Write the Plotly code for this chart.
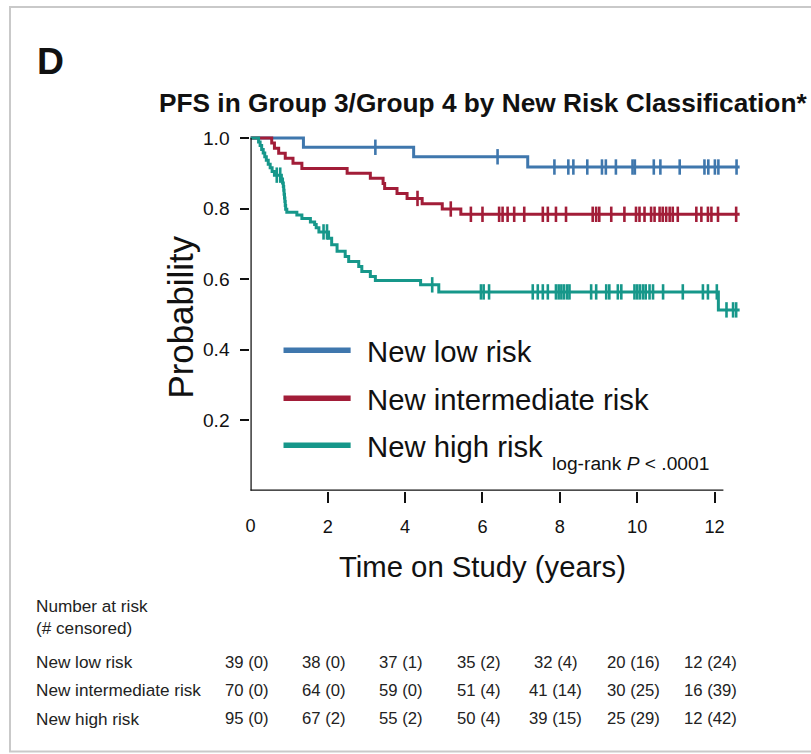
import plotly.graph_objects as go

W, H = 811, 754

# ---------------- data ----------------
time_ticks = [0, 2, 4, 6, 8, 10, 12]
prob_ticks = [0.2, 0.4, 0.6, 0.8, 1.0]
prob_ticktext = ["0.2", "0.4", "0.6", "0.8", "1.0"]

groups = ["New low risk", "New intermediate risk", "New high risk"]

low_t = [0, 1.37, 4.22, 7.17, 12.65]
low_s = [1.0, 0.974, 0.947, 0.918, 0.918]
low_cens = [3.23, 6.39, 7.86, 8.22, 8.35, 8.71, 9.09, 9.19, 9.45, 9.88, 9.94,
            10.43, 10.6, 11.1, 11.74, 11.84, 12.01, 12.1, 12.57]

int_t = [0, 0.55, 0.62, 0.73, 0.9, 1.1, 1.33, 2.5, 3.1, 3.43, 3.47, 3.79, 4.05,
         4.44, 4.96, 5.44, 12.65]
int_s = [1.0, 0.986, 0.971, 0.957, 0.943, 0.929, 0.914, 0.900, 0.886, 0.871,
         0.857, 0.843, 0.829, 0.814, 0.799, 0.784, 0.784]
int_cens = [4.32, 5.18, 5.7, 6.0, 6.43, 6.52, 6.65, 6.82, 7.08, 7.56, 7.69, 7.9,
            8.16, 8.85, 8.94, 9.02, 9.33, 9.67, 9.97, 10.06, 10.19, 10.36, 10.45,
            10.58, 10.66, 10.75, 10.84, 10.92, 11.05, 11.53, 11.66, 11.83, 11.92,
            12.09, 12.56]

high_t = [0, 0.21, 0.25, 0.29, 0.33, 0.37, 0.41, 0.46, 0.51, 0.56, 0.62, 0.80,
          0.83, 0.85, 0.86, 0.87, 0.88, 0.89, 0.90, 0.91, 0.94, 1.2, 1.33, 1.55,
          1.66, 1.70, 1.77, 2.02, 2.1, 2.24, 2.45, 2.54, 2.8, 2.88, 3.1, 3.23,
          4.4, 4.87, 12.1, 12.65]
high_s = [1.0, 0.989, 0.979, 0.968, 0.958, 0.947, 0.937, 0.926, 0.916, 0.905,
          0.895, 0.884, 0.873, 0.863, 0.852, 0.841, 0.830, 0.820, 0.809, 0.798,
          0.790, 0.782, 0.772, 0.762, 0.755, 0.746, 0.734, 0.716, 0.698, 0.679,
          0.664, 0.650, 0.636, 0.622, 0.608, 0.596, 0.584, 0.564, 0.513, 0.513]
high_cens = [0.68, 0.77, 1.89, 1.98, 4.7, 5.96, 6.03, 6.17, 7.3, 7.43, 7.56, 7.69,
             7.9, 7.97, 8.04, 8.11, 8.19, 8.25, 8.81, 8.94, 9.2, 9.28, 9.5, 9.59,
             9.93, 10.0, 10.07, 10.15, 10.22, 10.32, 10.41, 10.67, 11.18, 11.7,
             11.83, 12.06, 12.31, 12.48, 12.56]

at_risk = {
    "New low risk": [39, 38, 37, 35, 32, 20, 12],
    "New intermediate risk": [70, 64, 59, 51, 41, 30, 16],
    "New high risk": [95, 67, 55, 50, 39, 25, 12],
}
censored = {
    "New low risk": [0, 0, 1, 2, 4, 16, 24],
    "New intermediate risk": [0, 0, 0, 4, 14, 25, 39],
    "New high risk": [0, 2, 2, 4, 15, 29, 42],
}

colors = ["#3f77ad", "#a21d38", "#16978a"]

# ---------------- helpers ----------------
# compensation for the small offset/scale seen in the rendered snapshot
SX, OX = 0.992, 5.0
SY, OY = 0.990, 7.0

def X(x):
    return (x - OX) / SX

def Y(y):
    return (y - OY) / SY

def px(x):
    return X(x) / W

def py(y):
    return 1 - Y(y) / H

def fs(s):
    return s / SY

def step_value(ts, ss, t):
    v = ss[0]
    for ti, si in zip(ts, ss):
        if ti <= t:
            v = si
    return v

SANS = "Liberation Sans, Arial, Helvetica, sans-serif"

X0_PX = 250.0          # reference pixel of t = 0
PX_PER_YEAR = 38.6
Y0_PX = 490.5          # reference pixel of p = 0
PX_PER_UNIT = 352.5
XMAX = 12.75
YMAX = 1.01
TICKLEN_X = 11
STANDOFF_X = 8

def xpx(t):
    return px(X0_PX + t * PX_PER_YEAR)

fig = go.Figure()

series = [(low_t, low_s, low_cens), (int_t, int_s, int_cens), (high_t, high_s, high_cens)]
for name, (ts, ss, cs), col in zip(groups, series, colors):
    fig.add_trace(go.Scatter(
        x=ts, y=ss, mode="lines", line=dict(color=col, width=3, shape="hv"),
        name=name, showlegend=False, hoverinfo="skip", cliponaxis=False))
    fig.add_trace(go.Scatter(
        x=cs, y=[step_value(ts, ss, c) for c in cs], mode="markers",
        marker=dict(symbol="line-ns", size=11, color=col,
                    line=dict(color=col, width=2.6)),
        showlegend=False, hoverinfo="skip", cliponaxis=False))

xfont = dict(family=SANS, size=fs(18), color="#111")
fig.update_layout(
    width=W, height=H,
    margin=dict(l=0, r=0, t=0, b=0),
    paper_bgcolor="white", plot_bgcolor="white",
    showlegend=False,
    xaxis=dict(
        domain=[xpx(0), xpx(XMAX)],
        range=[0, XMAX], showgrid=False, zeroline=False, showline=False,
        tickvals=time_ticks[1:], ticks="outside", ticklen=TICKLEN_X, tickwidth=2,
        tickcolor="#111", ticklabelstandoff=STANDOFF_X, tickfont=xfont,
    ),
    # label for t = 0 without a tick mark (the reference has none there)
    xaxis2=dict(
        domain=[xpx(0), xpx(XMAX)], overlaying="x", anchor="y", side="bottom",
        range=[0, XMAX], showgrid=False, zeroline=False, showline=False,
        tickvals=time_ticks[:1], ticks="",
        ticklabelstandoff=STANDOFF_X + TICKLEN_X + 3, tickfont=xfont,
    ),
    yaxis=dict(
        domain=[py(Y0_PX), py(Y0_PX - YMAX * PX_PER_UNIT)],
        range=[0, YMAX], showgrid=False, zeroline=False, showline=False,
        tickvals=prob_ticks, ticktext=prob_ticktext, ticks="outside",
        ticklen=9, tickwidth=2, tickcolor="#111", ticklabelstandoff=7,
        tickfont=dict(family=SANS, size=fs(19), color="#111"),
    ),
)
# invisible trace so that xaxis2 is drawn
fig.add_trace(go.Scatter(x=[0], y=[0], xaxis="x2", mode="markers",
                         marker=dict(opacity=0), showlegend=False, hoverinfo="skip"))

shapes = []
# axis lines
shapes.append(dict(type="line", xref="x", yref="y", x0=0, x1=0, y0=0, y1=1.0,
                   line=dict(color="#111", width=2.5)))
shapes.append(dict(type="line", xref="x", yref="y", x0=-0.03, x1=12.23, y0=0, y1=0,
                   line=dict(color="#111", width=2.5)))
# card border
shapes.append(dict(type="rect", xref="paper", yref="paper",
                   x0=px(10), x1=px(840), y0=py(751), y1=1.0,
                   line=dict(color="#c9c9c9", width=2)))

annotations = []
# legend (drawn inside plot)
leg_y = [350, 398, 445]
for name, col, yy in zip(groups, colors, leg_y):
    shapes.append(dict(type="line", xref="paper", yref="paper",
                       x0=px(283), x1=px(350), y0=py(yy), y1=py(yy),
                       line=dict(color=col, width=5.5)))
    annotations.append(dict(text=name, xref="paper", yref="paper",
                            x=px(364), y=py(yy + 1), xanchor="left", yanchor="middle",
                            showarrow=False,
                            font=dict(family=SANS, size=fs(29), color="#111")))
annotations.append(dict(text="log-rank <i>P</i> < .0001", xref="paper", yref="paper",
                        x=px(549), y=py(463), xanchor="left", yanchor="middle",
                        showarrow=False, font=dict(family=SANS, size=fs(19), color="#111")))

# titles
annotations.append(dict(text="<b>D</b>", xref="paper", yref="paper", x=px(35), y=py(61),
                        xanchor="left", yanchor="middle", showarrow=False,
                        font=dict(family=SANS, size=fs(37), color="#111")))
annotations.append(dict(text="<b>PFS in Group 3/Group 4 by New Risk Classification*</b>",
                        xref="paper", yref="paper", x=px(157), y=py(103),
                        xanchor="left", yanchor="middle", showarrow=False,
                        font=dict(family=SANS, size=fs(26), color="#111")))
annotations.append(dict(text="Time on Study (years)", xref="paper", yref="paper",
                        x=px(482), y=py(566), xanchor="center", yanchor="middle",
                        showarrow=False, font=dict(family=SANS, size=fs(29), color="#111")))
annotations.append(dict(text="Probability", xref="paper", yref="paper",
                        x=px(180), y=py(317), xanchor="center", yanchor="middle",
                        textangle=-90, showarrow=False,
                        font=dict(family=SANS, size=fs(34.5), color="#111")))

# risk table
lbl_font = dict(family=SANS, size=fs(17), color="#222")
num_font = dict(family=SANS, size=fs(16.5), color="#222")
annotations.append(dict(text="Number at risk", xref="paper", yref="paper", x=px(34),
                        y=py(606), xanchor="left", yanchor="middle", showarrow=False,
                        font=lbl_font))
annotations.append(dict(text="(# censored)", xref="paper", yref="paper", x=px(34),
                        y=py(628), xanchor="left", yanchor="middle", showarrow=False,
                        font=lbl_font))
row_y = [662, 690, 718]
for name, yy in zip(groups, row_y):
    annotations.append(dict(text=name, xref="paper", yref="paper", x=px(34),
                            y=py(yy), xanchor="left", yanchor="middle",
                            showarrow=False, font=lbl_font))
    for t, n, c in zip(time_ticks, at_risk[name], censored[name]):
        annotations.append(dict(text=f"{n} ({c})", xref="paper", yref="paper",
                                x=xpx(t - 0.1), y=py(yy), xanchor="center",
                                yanchor="middle", showarrow=False, font=num_font))

fig.update_layout(shapes=shapes, annotations=annotations)

page_fix = (
    "document.documentElement.style.overflow='hidden';"
    "document.body.style.margin='0';document.body.style.padding='0';"
    "document.body.style.overflow='hidden';"
    "var gd=document.querySelector('.plotly-graph-div');"
    "gd.style.position='absolute';gd.style.left='0px';gd.style.top='0px';"
)
fig.write_html("out.html", config={"displayModeBar": False}, post_script=page_fix)
